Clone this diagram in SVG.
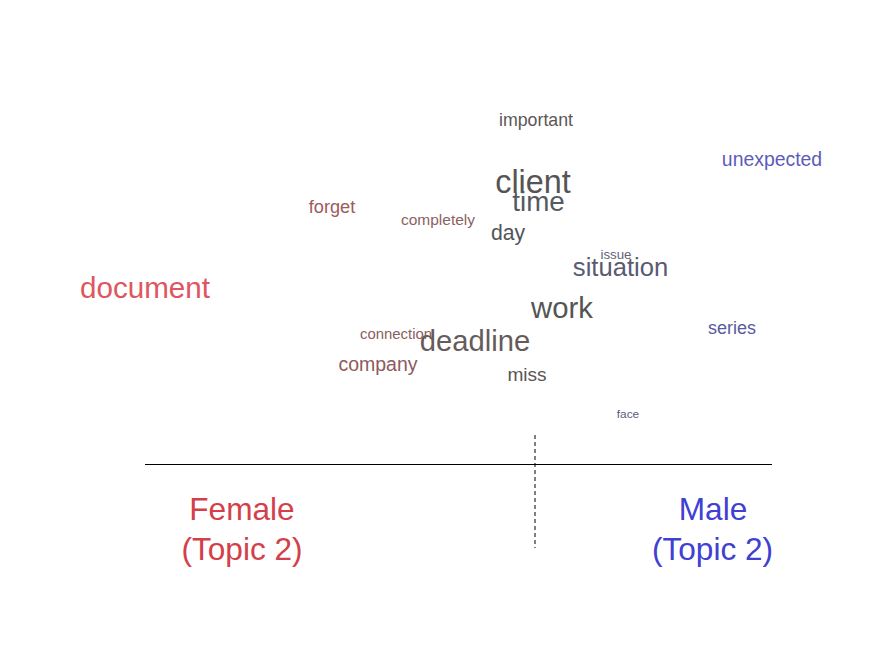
<svg xmlns="http://www.w3.org/2000/svg" width="880" height="665" viewBox="0 0 880 665">
<style>
text { font-family: "Liberation Sans", Arial, sans-serif; text-anchor: middle; }
.axis { stroke: #000; stroke-width: 1; fill: none; }
.dash { stroke: #000; stroke-width: 1; stroke-dasharray: 4 3; fill: none; }
</style>
<rect width="880" height="665" fill="#ffffff"/>
<g id="words">
<g id="w-important"><text x="536" y="126" font-size="17.8" fill="#5c5756">important</text></g>
<g id="w-unexpected"><text x="772" y="166" font-size="19.4" fill="#5b5cb8">unexpected</text></g>
<g id="w-client"><text x="533" y="193" font-size="32.4" fill="#555555">client</text></g>
<g id="w-time"><text x="538.5" y="211" font-size="27.8" fill="#555a60">time</text></g>
<g id="w-forget"><text x="332" y="213" font-size="18.2" fill="#9e5a5c">forget</text></g>
<g id="w-completely"><text x="438" y="224.5" font-size="15.5" fill="#8c5f64">completely</text></g>
<g id="w-day"><text x="508" y="239.5" font-size="21.2" fill="#525558">day</text></g>
<g id="w-issue"><text x="616" y="259" font-size="13.3" fill="#626278">issue</text></g>
<g id="w-situation"><text x="620.5" y="276" font-size="25.6" fill="#5a5a70">situation</text></g>
<g id="w-document"><text x="145" y="297.5" font-size="29.6" fill="#e05660">document</text></g>
<g id="w-work"><text x="562" y="317.5" font-size="29.3" fill="#555555">work</text></g>
<g id="w-series"><text x="732" y="333.5" font-size="18" fill="#5a5aa0">series</text></g>
<g id="w-connection"><text x="396" y="339" font-size="14.9" fill="#8a6060">connection</text></g>
<g id="w-deadline"><text x="475" y="350.5" font-size="29.2" fill="#665b5b">deadline</text></g>
<g id="w-company"><text x="378" y="370.5" font-size="19.5" fill="#8e5a5c">company</text></g>
<g id="w-miss"><text x="527" y="380.5" font-size="19.1" fill="#5a5555">miss</text></g>
<g id="w-face"><text x="628" y="417.5" font-size="11.8" fill="#5a5a80">face</text></g>
</g>
<g id="connectors">
<line class="axis" x1="145" y1="464.5" x2="772" y2="464.5"/>
<line class="dash" x1="535" y1="435" x2="535" y2="548"/>
</g>
<g id="label-female">
<text x="242" y="520" font-size="31.6" fill="#d3404a">Female</text>
<text x="242" y="559.5" font-size="31.6" fill="#d3404a">(Topic 2)</text>
</g>
<g id="label-male">
<text x="713" y="520" font-size="31.6" fill="#4040d2">Male</text>
<text x="712.5" y="559.5" font-size="31.6" fill="#4040d2">(Topic 2)</text>
</g>
</svg>
